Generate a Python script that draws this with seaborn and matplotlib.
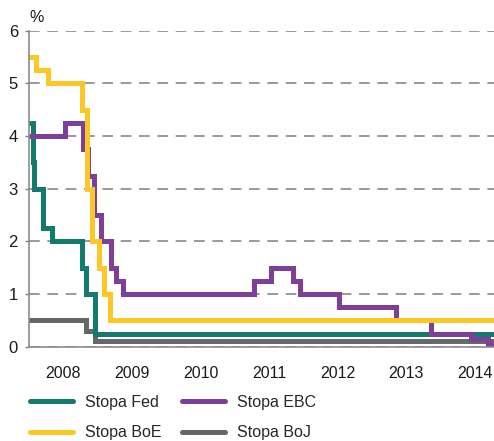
import pandas as pd
import numpy as np
import matplotlib
matplotlib.use('Agg')
import matplotlib.pyplot as plt
import matplotlib.dates as mdates
from matplotlib.lines import Line2D
import seaborn as sns

# Change dates and rate levels for each central bank (step series)
fed_dates = ['2008-01-01', '2008-01-22', '2008-01-30', '2008-03-18', '2008-04-30',
             '2008-10-08', '2008-10-29', '2008-12-16', '2014-10-15']
fed_rates = [4.25, 3.5, 3.0, 2.25, 2.0, 1.5, 1.0, 0.25, 0.25]

ecb_dates = ['2008-01-01', '2008-07-09', '2008-10-15', '2008-11-12', '2008-12-10',
             '2009-01-21', '2009-03-11', '2009-04-08', '2009-05-13', '2011-04-13',
             '2011-07-13', '2011-11-09', '2011-12-14', '2012-07-11', '2013-05-08',
             '2013-11-13', '2014-06-11', '2014-09-10', '2014-10-15']
ecb_rates = [4.0, 4.25, 3.75, 3.25, 2.5, 2.0, 1.5, 1.25, 1.0, 1.25,
             1.5, 1.25, 1.0, 0.75, 0.5, 0.25, 0.15, 0.05, 0.05]

boe_dates = ['2008-01-01', '2008-02-07', '2008-04-10', '2008-10-08', '2008-11-06',
             '2008-12-04', '2009-01-08', '2009-02-05', '2009-03-05', '2014-10-15']
boe_rates = [5.5, 5.25, 5.0, 4.5, 3.0, 2.0, 1.5, 1.0, 0.5, 0.5]

boj_dates = ['2008-01-01', '2008-10-31', '2008-12-19', '2014-10-15']
boj_rates = [0.5, 0.3, 0.1, 0.1]

series_names = ['Stopa Fed', 'Stopa EBC', 'Stopa BoE', 'Stopa BoJ']
year_labels = ['2008', '2009', '2010', '2011', '2012', '2013', '2014']
y_ticks = [0, 1, 2, 3, 4, 5, 6]

colors = {'Stopa Fed': '#137a6d', 'Stopa EBC': '#7d3f98',
          'Stopa BoE': '#fdc826', 'Stopa BoJ': '#656868'}


def build_frame():
    parts = []
    for name, d, r in [('Stopa Fed', fed_dates, fed_rates),
                       ('Stopa EBC', ecb_dates, ecb_rates),
                       ('Stopa BoE', boe_dates, boe_rates),
                       ('Stopa BoJ', boj_dates, boj_rates)]:
        parts.append(pd.DataFrame({'date': pd.to_datetime(d), 'rate': r, 'series': name}))
    return pd.concat(parts, ignore_index=True)


df = build_frame()

sns.set_style('white')
plt.rcParams['font.family'] = ['Liberation Sans', 'DejaVu Sans']

fig = plt.figure(figsize=(4.94, 4.41), dpi=100)
ax = fig.add_axes([29 / 494, 1 - 346.7 / 441, 1 - 29 / 494, (346.7 - 30.7) / 441])

# draw order: BoJ below, BoE on top
draw_order = ['Stopa BoJ', 'Stopa Fed', 'Stopa EBC', 'Stopa BoE']
sns.lineplot(data=df, x='date', y='rate', hue='series', hue_order=draw_order,
             palette=colors, drawstyle='steps-post', linewidth=3.6,
             legend=False, ax=ax, solid_joinstyle='miter')

ax.set_xlim(pd.Timestamp('2008-01-01'), pd.Timestamp('2014-10-12'))
ax.set_ylim(0, 6)
ax.set_yticks(y_ticks)
ax.set_yticklabels([str(v) for v in y_ticks])
ax.yaxis.grid(True, color='#7f7f7f', linestyle=(0, (7, 5)), linewidth=1.1)
ax.set_axisbelow(True)

ax.xaxis.set_major_locator(mdates.YearLocator())
ax.xaxis.set_major_formatter(plt.NullFormatter())
ax.set_xticks(pd.to_datetime([y + '-07-02' for y in year_labels]), minor=True)
ax.set_xticklabels(year_labels, minor=True)
ax.tick_params(axis='x', which='major', length=5, width=1.0, color='#7f7f7f', direction='out')
ax.tick_params(axis='x', which='minor', length=0, pad=14, labelsize=11.5, labelcolor='#1a1a1a')
ax.tick_params(axis='y', length=3, width=1.0, color='#7f7f7f', pad=5, labelsize=12,
               labelcolor='#1a1a1a', left=True)

ax.set_xlabel('')
ax.set_ylabel('')
sns.despine(ax=ax, top=True, right=True)
for side in ['left', 'bottom']:
    ax.spines[side].set_color('#8c8c8c')
    ax.spines[side].set_linewidth(1.2)

fig.text(29 / 494, 1 - 17 / 441, '%', fontsize=11.5, color='#1a1a1a', va='center', ha='left')

handles = [Line2D([0], [0], color=colors[n], linewidth=3.6, solid_capstyle='round')
           for n in ['Stopa Fed', 'Stopa BoE', 'Stopa EBC', 'Stopa BoJ']]
labels = ['Stopa Fed', 'Stopa BoE', 'Stopa EBC', 'Stopa BoJ']
fig.legend(handles, labels, ncol=2, loc='upper left', bbox_to_anchor=(30 / 494, 1 - 395 / 441),
           frameon=False, fontsize=11.5, handlelength=2.7, handletextpad=0.75,
           columnspacing=1.3, labelspacing=0.95, borderpad=0, borderaxespad=0)

fig.savefig('out.png', dpi=100)
